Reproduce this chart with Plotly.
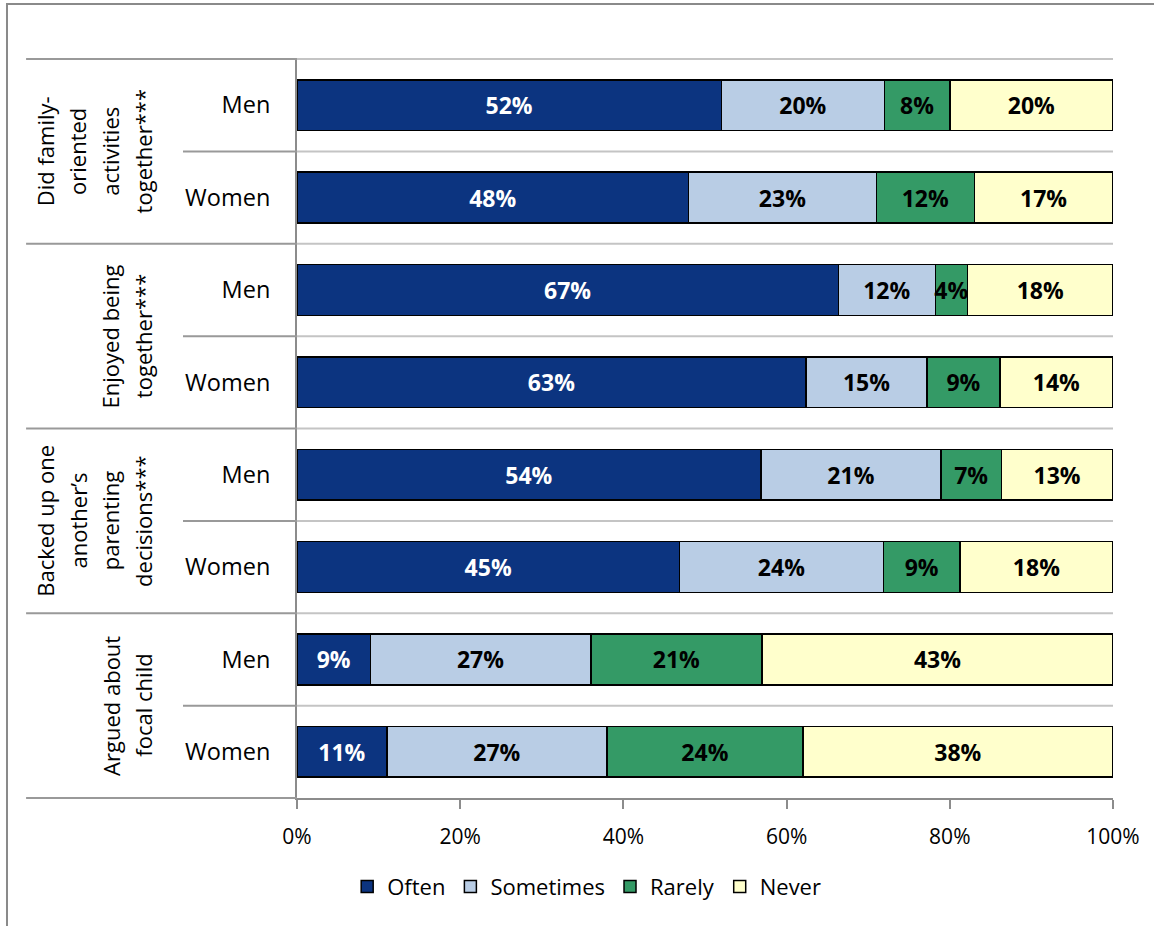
import plotly.graph_objects as go

# Survey items (each asked of men and women) and the rows drawn for them
items = [
    ["Did family-", "oriented", "activities", "together***"],
    ["Enjoyed being", "together***"],
    ["Backed up one", "another\u2019s", "parenting", "decisions***"],
    ["Argued about", "focal child"],
]
sexes = ["Men", "Women", "Men", "Women", "Men", "Women", "Men", "Women"]

# Response shares (%) per row, top to bottom
often = [52, 48, 67, 63, 54, 45, 9, 11]
sometimes = [20, 23, 12, 15, 21, 24, 27, 27]
rarely = [8, 12, 4, 9, 7, 9, 21, 24]
never = [20, 17, 18, 14, 13, 18, 43, 38]

series = [
    ("Often", often, "#0c3480", "white"),
    ("Sometimes", sometimes, "#b9cde5", "black"),
    ("Rarely", rarely, "#349a66", "black"),
    ("Never", never, "#ffffcc", "black"),
]

x_ticks = [0, 20, 40, 60, 80, 100]

FONT = "'Open Sans', 'Noto Sans', sans-serif"
rows = list(range(len(sexes)))
n_rows = len(rows)

fig = go.Figure()
for name, vals, color, tcolor in series:
    fig.add_trace(go.Bar(
        name=name,
        y=rows,
        x=vals,
        orientation="h",
        width=0.55,
        marker=dict(color=color, line=dict(color="black", width=1.5)),
        text=[f"{v}%" for v in vals],
        textposition="inside",
        insidetextanchor="middle",
        textangle=0,
        textfont=dict(family=FONT, size=23, color=tcolor, weight="bold"),
        hoverinfo="skip",
    ))

shapes = []
# light grid lines between rows inside the plot
for k in range(n_rows + 1):
    yp = 1 - k / n_rows
    if k < n_rows:
        shapes.append(dict(type="line", xref="x", yref="paper", x0=0, x1=100,
                           y0=yp, y1=yp, line=dict(color="#c4c4c4", width=2)))
    # category dividers to the left of the axis
    x0 = -0.332 if k % 2 == 0 else -0.1397
    shapes.append(dict(type="line", xref="paper", yref="paper", x0=x0, x1=0,
                       y0=yp, y1=yp, line=dict(color="#999999", width=2)))

# outer chart frame (top and left edges visible)
shapes.append(dict(type="rect", xref="paper", yref="paper",
                   x0=-0.3554, x1=1.2, y0=-0.4, y1=1.0744,
                   line=dict(color="#8a8a8a", width=2), fillcolor="rgba(0,0,0,0)",
                   layer="below"))

annotations = []
px_per_paper = 816.0
for g, lines in enumerate(items):
    yc = 1 - (2 * g + 1) / n_rows
    n = len(lines)
    for i, line in enumerate(lines):
        xpx = 143 - 32.7 * (n - 1 - i)
        annotations.append(dict(
            xref="paper", yref="paper", x=(xpx - 297) / px_per_paper, y=yc,
            text=line, showarrow=False, textangle=-90,
            xanchor="center", yanchor="middle",
            font=dict(family=FONT, size=22, color="black"),
        ))

fig.update_layout(
    barmode="stack",
    barnorm="percent",
    width=1154,
    height=926,
    margin=dict(l=297, r=41, t=59, b=128),
    paper_bgcolor="white",
    plot_bgcolor="white",
    font=dict(family=FONT, size=21, color="black"),
    uniformtext=dict(minsize=23, mode="show"),
    shapes=shapes,
    annotations=annotations,
    showlegend=True,
    legend=dict(
        orientation="h",
        x=0.355, xanchor="center",
        y=-0.12, yanchor="middle",
        font=dict(family=FONT, size=22, color="black"),
        traceorder="normal",
        itemwidth=30,
    ),
    xaxis=dict(
        range=[0, 100],
        tickvals=x_ticks,
        ticktext=[f"{t}%" for t in x_ticks],
        showgrid=False,
        zeroline=False,
        showline=True,
        linecolor="#8c8c8c",
        linewidth=2,
        ticks="outside",
        ticklen=9,
        tickwidth=2,
        tickcolor="#8c8c8c",
        ticklabelstandoff=10,
        tickfont=dict(family=FONT, size=21, color="black"),
    ),
    yaxis=dict(
        range=[n_rows - 0.5, -0.5],
        tickvals=rows,
        ticktext=sexes,
        showgrid=False,
        zeroline=False,
        showline=True,
        linecolor="#8c8c8c",
        linewidth=2,
        ticks="",
        ticklabelstandoff=20,
        tickfont=dict(family=FONT, size=23.5, color="black"),
    ),
)

fig.write_html("out.html")
